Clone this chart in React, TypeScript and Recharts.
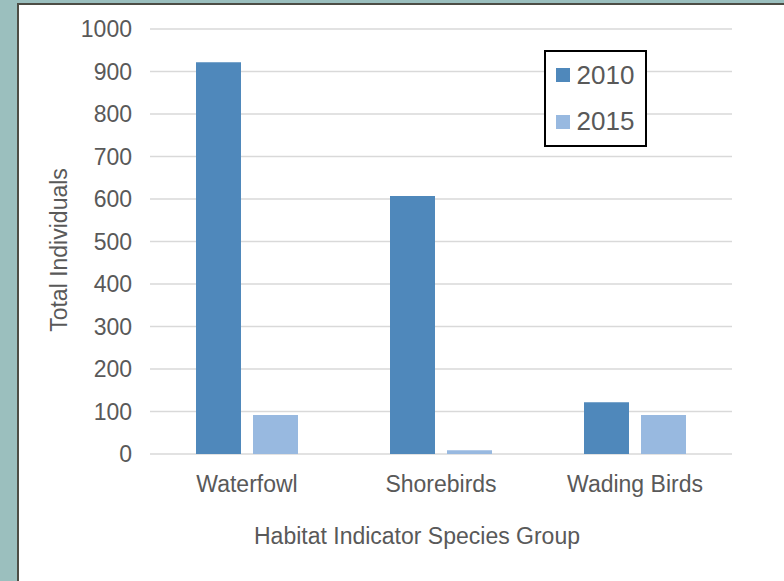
import { Bar, BarChart, CartesianGrid, Label, Legend, XAxis, YAxis } from "recharts";

const groups = ["Waterfowl", "Shorebirds", "Wading Birds"];
const counts2010 = [922, 607, 122];
const counts2015 = [92, 9, 92];
const yTicks = [0, 100, 200, 300, 400, 500, 600, 700, 800, 900, 1000];

const data = groups.map((group, i) => ({
  group,
  "2010": counts2010[i],
  "2015": counts2015[i],
}));

const font = '"Liberation Sans", Arial, sans-serif';
const textColor = "#595959";
const colors: Record<string, string> = { "2010": "#4F88BB", "2015": "#98B9E0" };

const LegendBox = () => (
  <div
    style={{
      width: 103,
      boxSizing: "border-box",
      border: "2px solid #000",
      background: "#fff",
      fontFamily: font,
      fontSize: 26,
      color: textColor,
    }}
  >
    {["2010", "2015"].map((key) => (
      <div key={key} style={{ display: "flex", alignItems: "center", height: 46.5 }}>
        <span
          style={{
            width: 14,
            height: 14,
            marginLeft: 10.5,
            marginRight: 6.5,
            background: colors[key],
            display: "inline-block",
          }}
        />
        <span>{key}</span>
      </div>
    ))}
  </div>
);

export default function App() {
  return (
    <div
      style={{
        position: "absolute",
        left: 0,
        top: 0,
        width: 784,
        height: 581,
        background: "#9BBFBE",
        overflow: "hidden",
      }}
    >
      <div
        style={{
          position: "absolute",
          left: 17,
          top: 3,
          width: 767,
          height: 578,
          background: "#fff",
          borderLeft: "2px solid #4d4d45",
          borderTop: "2px solid #4d4d45",
        }}
      >
        <BarChart
          width={765}
          height={576}
          data={data}
          margin={{ top: 24, right: 52, left: 0, bottom: 57 }}
          barSize={45}
          barGap={12}
        >
          <CartesianGrid vertical={false} stroke="#d9d9d9" strokeWidth={1.5} />
          <XAxis
            dataKey="group"
            height={70}
            axisLine={false}
            tickLine={false}
            tickSize={22}
            tickMargin={0}
            tick={{ fill: textColor, fontSize: 23, fontFamily: font }}
          >
            <Label
              content={(props: any) => {
                const { x, y, width, height } = props.viewBox;
                return (
                  <text
                    x={x + width / 2 - 24}
                    y={y + height + 12}
                    textAnchor="middle"
                    dominantBaseline="central"
                    fill={textColor}
                    fontSize={23}
                    fontFamily={font}
                  >
                    Habitat Indicator Species Group
                  </text>
                );
              }}
            />
          </XAxis>
          <YAxis
            width={131}
            domain={[0, 1000]}
            ticks={yTicks}
            axisLine={false}
            tickLine={false}
            tickSize={18}
            tickMargin={0}
            tick={{ fill: textColor, fontSize: 23, fontFamily: font }}
          >
            <Label
              content={(props: any) => {
                const { x, y, height } = props.viewBox;
                const cx = x + 39.5;
                const cy = y + height / 2 + 8.5;
                return (
                  <text
                    x={cx}
                    y={cy}
                    transform={`rotate(-90, ${cx}, ${cy})`}
                    textAnchor="middle"
                    dominantBaseline="central"
                    fill={textColor}
                    fontSize={23}
                    fontFamily={font}
                  >
                    Total Individuals
                  </text>
                );
              }}
            />
          </YAxis>
          <Legend
            layout="horizontal"
            verticalAlign="middle"
            align="center"
            content={<LegendBox />}
            wrapperStyle={{ position: "absolute", left: 524.5, top: 45, width: 103 }}
          />
          <Bar dataKey="2010" fill={colors["2010"]} isAnimationActive={false} />
          <Bar dataKey="2015" fill={colors["2015"]} isAnimationActive={false} />
        </BarChart>
      </div>
    </div>
  );
}
